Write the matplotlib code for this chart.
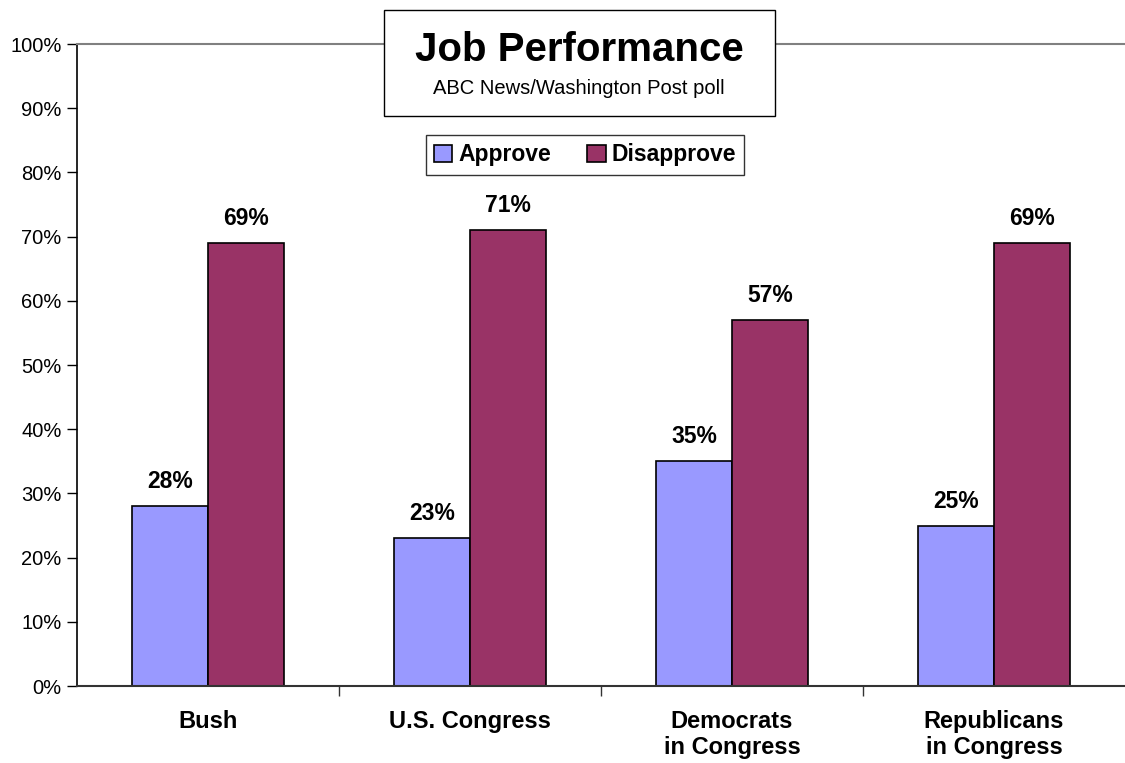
import numpy as np
import matplotlib
matplotlib.use("Agg")
import matplotlib.pyplot as plt
from matplotlib.patches import Rectangle

plt.rcParams['font.family'] = ['Liberation Sans', 'DejaVu Sans']

categories = ['Bush', 'U.S. Congress', 'Democrats\nin Congress', 'Republicans\nin Congress']
approve = [28, 23, 35, 25]
disapprove = [69, 71, 57, 69]
yticks = [0, 10, 20, 30, 40, 50, 60, 70, 80, 90, 100]

fig = plt.figure(figsize=(11.25, 7.63), dpi=100)
ax = fig.add_axes([77 / 1125, 1 - 686 / 763, 1 - 77 / 1125, (686 - 44) / 763])

x = np.arange(len(categories))
w = 0.29
b1 = ax.bar(x - w / 2, approve, w, color='#9999FF', edgecolor='black', linewidth=1.2, label='Approve')
b2 = ax.bar(x + w / 2, disapprove, w, color='#993366', edgecolor='black', linewidth=1.2, label='Disapprove')

for bars, vals in ((b1, approve), (b2, disapprove)):
    for r, v in zip(bars, vals):
        ax.text(r.get_x() + r.get_width() / 2, v + 2.0, f'{v}%', ha='center', va='bottom',
                fontsize=16.5, fontweight='bold')

ax.set_xlim(-0.5, len(categories) - 0.5)
ax.set_ylim(0, 100)
ax.set_yticks(yticks)
ax.set_yticklabels([f'{t}%' for t in yticks], fontsize=14.5)
ax.tick_params(axis='y', direction='out', length=7, width=1, pad=4)

# category labels and boundary ticks
ax.set_xticks(x)
ax.set_xticklabels(categories, fontsize=17, fontweight='bold', va='top', linespacing=1.2)
ax.tick_params(axis='x', length=0, pad=17)
ax.set_xticks(np.arange(len(categories) - 1) + 0.5, minor=True)
ax.tick_params(axis='x', which='minor', direction='out', length=7, width=1, color='#333333')

ax.spines['right'].set_visible(False)
ax.spines['top'].set_color('#808080')
ax.spines['top'].set_linewidth(1.5)
ax.spines['bottom'].set_color('#333333')
ax.spines['bottom'].set_linewidth(1.5)
ax.spines['left'].set_linewidth(1.2)

# title box
fig.patches.append(Rectangle((384 / 1125, 1 - 116 / 763), (775 - 384) / 1125, (116 - 10) / 763,
                             transform=fig.transFigure, facecolor='white', edgecolor='black',
                             linewidth=1, zorder=5))
fig.text(579 / 1125, 1 - 50 / 763, 'Job Performance', ha='center', va='center',
         fontsize=29, fontweight='bold', zorder=6)
fig.text(579 / 1125, 1 - 88 / 763, 'ABC News/Washington Post poll', ha='center', va='center',
         fontsize=14.5, zorder=6)

leg = ax.legend(loc='center', bbox_to_anchor=(585 / 1125, 1 - 155 / 763), bbox_transform=fig.transFigure,
                ncol=2, frameon=True, fancybox=False, edgecolor='black',
                prop={'weight': 'bold', 'size': 16.5}, handlelength=0.8, handleheight=0.8,
                handletextpad=0.25, columnspacing=1.6, borderpad=0.35)
leg.get_frame().set_linewidth(1)

fig.savefig('out.png', dpi=100)
